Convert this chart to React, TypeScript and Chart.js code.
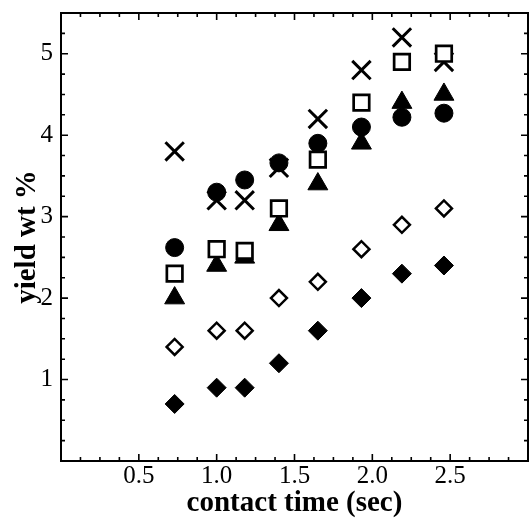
import React, { useEffect, useRef } from "react";
import { Chart, registerables } from "chart.js";

Chart.register(...registerables);

const contactTime = [0.73, 1.0, 1.18, 1.4, 1.65, 1.93, 2.19, 2.46];
const filledDiamond = [0.7, 0.9, 0.9, 1.2, 1.6, 2.0, 2.3, 2.4];
const openDiamond = [1.4, 1.6, 1.6, 2.0, 2.2, 2.6, 2.9, 3.1];
const filledCircle = [2.62, 3.3, 3.45, 3.66, 3.9, 4.1, 4.22, 4.27];
const openSquare = [2.3, 2.6, 2.58, 3.1, 3.7, 4.4, 4.9, 5.0];
const crossSeries = [3.8, 3.2, 3.2, 3.6, 4.2, 4.8, 5.2, 4.9];
const filledTriangle = [2.0, 2.4, 2.5, 2.9, 3.4, 3.9, 4.4, 4.5];

const xTickValues = [0.5, 1.0, 1.5, 2.0, 2.5];
const xTickLabels = ["0.5", "1.0", "1.5", "2.0", "2.5"];
const yTickValues = [1, 2, 3, 4, 5];
const yTickLabels = ["1", "2", "3", "4", "5"];

const FONT = "'Liberation Serif', 'DejaVu Serif', serif";

const toPts = (ys: number[]) => ys.map((y, i) => ({ x: contactTime[i], y }));

const framePlugin = {
  id: "frameTicks",
  afterDraw(chart: any) {
    const { ctx, chartArea } = chart;
    const xs = chart.scales.x;
    const ys = chart.scales.y;
    const { left, right, top, bottom } = chartArea;
    ctx.save();
    ctx.strokeStyle = "#000";
    ctx.lineWidth = 1.6;
    ctx.beginPath();
    for (let k = 1; k < 24; k++) {
      const v = k * 0.125;
      const px = xs.getPixelForValue(v);
      const len = k % 4 === 0 ? 7 : 4;
      ctx.moveTo(px, bottom);
      ctx.lineTo(px, bottom - len);
      ctx.moveTo(px, top);
      ctx.lineTo(px, top + len);
    }
    for (let k = 1; k < 22; k++) {
      const v = k * 0.25;
      const py = ys.getPixelForValue(v);
      const len = k % 4 === 0 ? 7 : 4;
      ctx.moveTo(left, py);
      ctx.lineTo(left + len, py);
      ctx.moveTo(right, py);
      ctx.lineTo(right - len, py);
    }
    ctx.stroke();
    ctx.lineWidth = 2;
    ctx.strokeRect(left, top, right - left, bottom - top);
    ctx.restore();
  },
};

export default function App() {
  const ref = useRef<HTMLCanvasElement | null>(null);
  useEffect(() => {
    if (!ref.current) return;
    const chart = new Chart(ref.current, {
      type: "scatter",
      data: {
        datasets: [
          {
            label: "filled diamond",
            data: toPts(filledDiamond),
            pointStyle: "rectRot",
            pointRadius: 9.5,
            backgroundColor: "#000",
            borderColor: "#000",
            borderWidth: 1,
          },
          {
            label: "open diamond",
            data: toPts(openDiamond),
            pointStyle: "rectRot",
            pointRadius: 8,
            backgroundColor: "#fff",
            borderColor: "#000",
            borderWidth: 2.5,
          },
          {
            label: "filled circle",
            data: toPts(filledCircle),
            pointStyle: "circle",
            pointRadius: 9,
            backgroundColor: "#000",
            borderColor: "#000",
            borderWidth: 1,
          },
          {
            label: "open square",
            data: toPts(openSquare),
            pointStyle: "rect",
            pointRadius: 11,
            backgroundColor: "#fff",
            borderColor: "#000",
            borderWidth: 2.7,
          },
          {
            label: "cross",
            data: toPts(crossSeries),
            pointStyle: "crossRot",
            pointRadius: 13,
            backgroundColor: "#000",
            borderColor: "#000",
            borderWidth: 3,
          },
          {
            label: "filled triangle",
            data: toPts(filledTriangle),
            pointStyle: "triangle",
            pointRadius: 11.5,
            backgroundColor: "#000",
            borderColor: "#000",
            borderWidth: 1,
          },
        ],
      },
      options: {
        animation: false,
        responsive: false,
        devicePixelRatio: 1,
        layout: { autoPadding: false, padding: { top: 13, right: 1, left: 0, bottom: 0 } },
        plugins: { legend: { display: false }, tooltip: { enabled: false } },
        scales: {
          x: {
            type: "linear",
            min: 0,
            max: 3,
            grid: { display: false, drawTicks: false },
            border: { display: false },
            afterBuildTicks: (s: any) => {
              s.ticks = xTickValues.map((v) => ({ value: v }));
            },
            afterFit: (s: any) => {
              s.height = 60;
              s.paddingLeft = 0;
              s.paddingRight = 0;
              s.paddingTop = 0;
              s.paddingBottom = 0;
            },
            ticks: {
              padding: 0,
              color: "#000",
              font: { family: FONT, size: 25 },
              callback: (v: any) => {
                const i = xTickValues.indexOf(Number(v));
                return i >= 0 ? xTickLabels[i] : "";
              },
            },
            title: {
              display: true,
              text: "contact time (sec)",
              color: "#000",
              font: { family: FONT, size: 29, weight: "bold" },
              padding: { top: 0, bottom: 0 },
            },
          },
          y: {
            type: "linear",
            min: 0,
            max: 5.5,
            grid: { display: false, drawTicks: false },
            border: { display: false },
            afterBuildTicks: (s: any) => {
              s.ticks = yTickValues.map((v) => ({ value: v }));
            },
            afterFit: (s: any) => {
              s.width = 61;
              s.paddingLeft = 0;
              s.paddingRight = 0;
              s.paddingTop = 0;
              s.paddingBottom = 0;
            },
            ticks: {
              padding: 8,
              color: "#000",
              font: { family: FONT, size: 25 },
              callback: (v: any) => {
                const i = yTickValues.indexOf(Number(v));
                return i >= 0 ? yTickLabels[i] : "";
              },
            },
            title: {
              display: true,
              text: "yield wt %",
              color: "#000",
              font: { family: FONT, size: 29, weight: "bold" },
              padding: { top: 10, bottom: 0 },
            },
          },
        },
      },
      plugins: [framePlugin],
    });
    return () => chart.destroy();
  }, []);
  return (
    <div style={{ position: "fixed", left: 0, top: 0, width: 529, height: 521, background: "#fff" }}>
      <canvas ref={ref} width={529} height={521} style={{ display: "block", width: 529, height: 521 }} />
    </div>
  );
}
